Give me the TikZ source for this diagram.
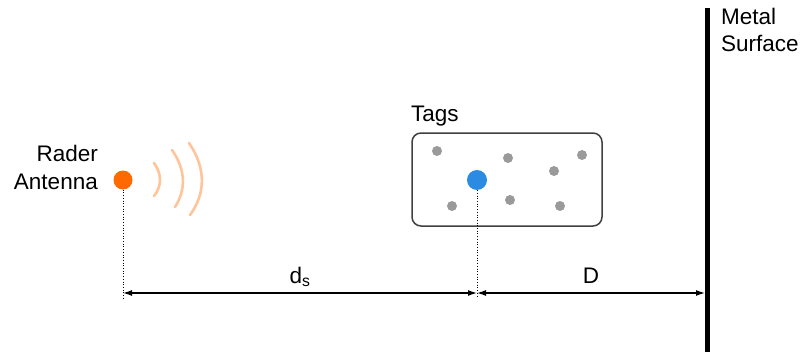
\documentclass[tikz,border=0pt]{standalone}
\usepackage{fontspec}
\setmainfont{Liberation Sans}
\usetikzlibrary{arrows.meta}
\definecolor{radar}{HTML}{FF6A00}
\definecolor{wave}{HTML}{FFC49A}
\definecolor{tagblue}{HTML}{2B8AE2}
\definecolor{taggrey}{HTML}{9A9A9A}
\definecolor{boxline}{HTML}{404040}
\begin{document}
\begin{tikzpicture}[x=1pt,y=-1pt,
  lbl/.style={font=\fontsize{22.5}{28}\selectfont, inner sep=0pt},
  dotg/.style={circle, fill=taggrey, minimum size=10pt, inner sep=0pt},
  guide/.style={dotted, line width=0.7pt},
  dim/.style={line width=1.3pt, {Latex[length=9pt,width=6pt]}-{Latex[length=9pt,width=6pt]}},
  wavearc/.style={wave, line width=2.6pt, line cap=round}]
\useasboundingbox (0,0) rectangle (804,356);

% radar antenna
\node[circle, fill=radar, minimum size=19pt, inner sep=0pt] (ant) at (123,180) {};
\node[lbl, anchor=base east] (rlbl) at (98,161) {Rader};
\node[lbl, anchor=base east] (albl) at (98,189) {Antenna};
% emitted waves
\draw[wavearc] (154,163) .. controls (162,174) and (162,186) .. (154,196);
\draw[wavearc] (172,150) .. controls (186,170) and (186,190) .. (175,207);
\draw[wavearc] (189,143) .. controls (206,168) and (206,193) .. (190,215);

% tag area
\node[draw=boxline, line width=1.5pt, rounded corners=9pt, minimum width=190pt, minimum height=93pt, inner sep=0pt] (box) at (507,179.5) {};
\node[lbl, anchor=base west] (tagslbl) at (411,121) {Tags};
\node[dotg] (g1) at (437,151) {};
\node[dotg] (g2) at (508,158) {};
\node[dotg] (g3) at (582,155) {};
\node[dotg] (g4) at (554,171) {};
\node[dotg] (g5) at (452,206) {};
\node[dotg] (g6) at (510,200) {};
\node[dotg] (g7) at (560,206) {};
\node[circle, fill=tagblue, minimum size=20pt, inner sep=0pt] (tag) at (477,180) {};

% metal surface
\coordinate (mtop) at (707,8);
\coordinate (mbot) at (707,352);
\draw[line width=5pt] (mtop) -- (mbot);
\node[lbl, anchor=base west] (metlbl) at (721,24) {Metal};
\node[lbl, anchor=base west] (surflbl) at (721,51) {Surface};

% guide lines and distances
\coordinate (a1) at (123,298);
\coordinate (t1) at (477,298);
\coordinate (da) at (123,293);
\coordinate (dt) at (477,293);
\coordinate (dm) at (705,293);
\draw[guide] (ant) -- (a1);
\draw[guide] (tag) -- (t1);
\draw[dim] (da) -- (dt);
\draw[dim] (dt) -- (dm);
\node[lbl, anchor=base] (dslbl) at (300,283) {d\textsubscript{s}};
\node[lbl, anchor=base] (Dlbl) at (591,283) {D};
\end{tikzpicture}
\end{document}
